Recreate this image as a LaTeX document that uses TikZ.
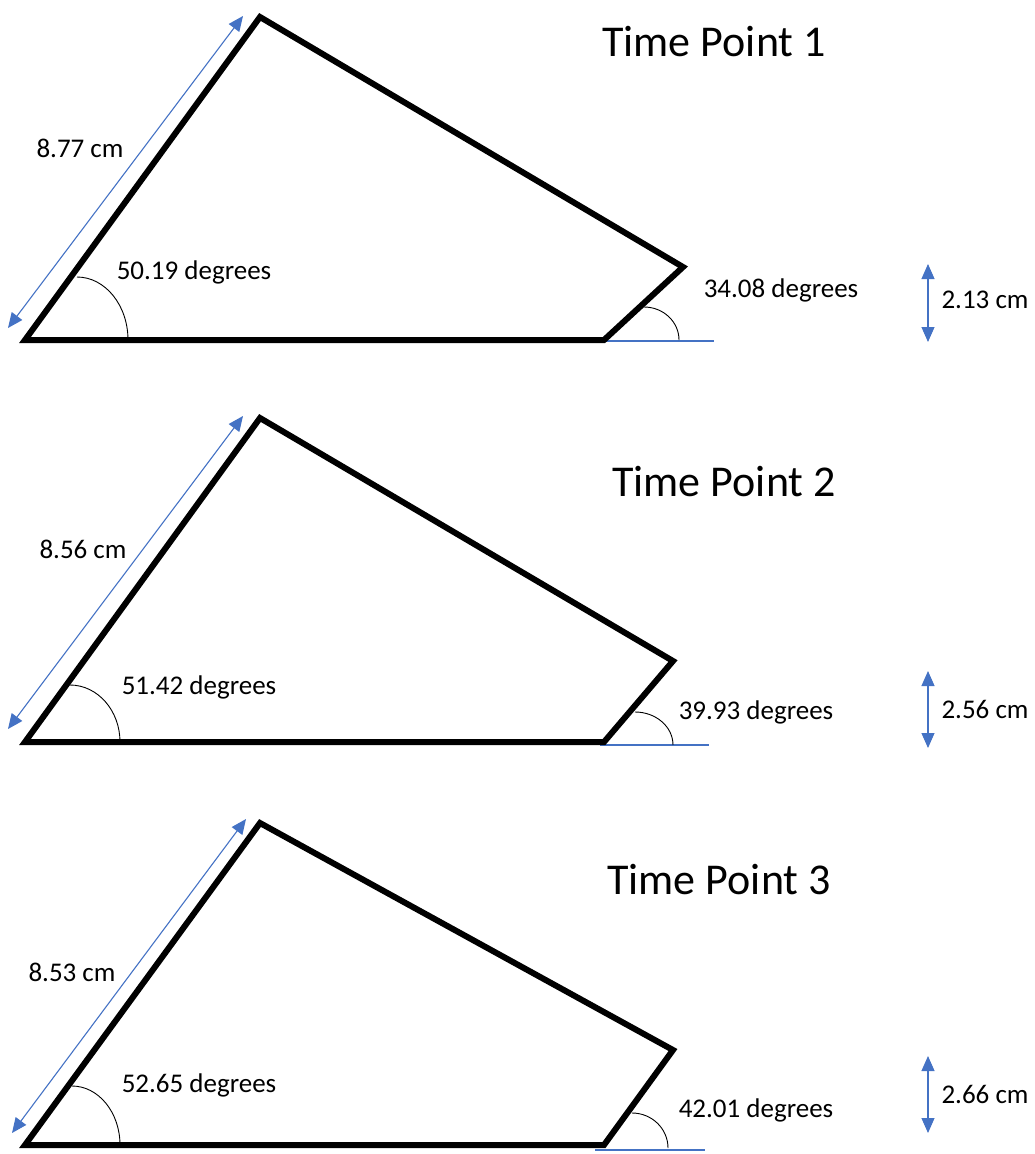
\documentclass[tikz,border=0pt]{standalone}
\usepackage{fontspec}
\setmainfont{Carlito}
\usetikzlibrary{arrows.meta}
\definecolor{dimblue}{HTML}{4472C4}
\tikzset{
  quad/.style={line width=6pt, line join=miter},
  dimarrow/.style={dimblue, line width=1.1pt, {Triangle[length=15pt,width=13pt]}-{Triangle[length=15pt,width=13pt]}},
  baseline/.style={dimblue, line width=1.2pt},
  anglearc/.style={black, line width=0.9pt},
  lbl/.style={font=\fontsize{27}{32}\selectfont, inner sep=0pt},
  ttl/.style={font=\fontsize{44}{52}\selectfont, inner sep=0pt},
}
\begin{document}
\begin{tikzpicture}[x=1pt,y=-1pt]
\useasboundingbox (0,0) rectangle (1035,1154);

% ---------- Time Point 1 ----------
\coordinate (A1) at (25,340);
\coordinate (B1) at (260,17);
\coordinate (C1) at (683,267);
\coordinate (D1) at (604,340);
\coordinate (E1) at (714,341);
\coordinate (P1) at (8,328);
\coordinate (Q1) at (243,16);
\coordinate (U1) at (928,264);
\coordinate (V1) at (928,342);
\draw[baseline] (D1) ++(0,1) -- (E1);
\draw[quad] (A1) -- (B1) -- (C1) -- (D1) -- cycle;
\draw[dimarrow] (P1) -- (Q1);
\draw[anglearc] (77,277) arc[start angle=90, end angle=0, x radius=51pt, y radius=63pt];
\draw[anglearc] (644,307) arc[start angle=90, end angle=0, x radius=35pt, y radius=33pt];
\draw[dimarrow] (U1) -- (V1);
\node[ttl] (t1) at (714,42) {Time Point 1};
\node[lbl] (l1) at (80,148) {8.77 cm};
\node[lbl] (a1) at (194,272) {50.19 degrees};
\node[lbl] (b1) at (781,290) {34.08 degrees};
\node[lbl] (h1) at (985,300) {2.13 cm};

% ---------- Time Point 2 ----------
\coordinate (A2) at (25,742);
\coordinate (B2) at (260,418);
\coordinate (C2) at (673,661);
\coordinate (D2) at (604,742);
\coordinate (E2) at (709,745);
\coordinate (P2) at (8,729);
\coordinate (Q2) at (243,416);
\coordinate (U2) at (928,671);
\coordinate (V2) at (928,748);
\draw[baseline] (600,745) -- (E2);
\draw[quad] (A2) -- (B2) -- (C2) -- (D2) -- cycle;
\draw[dimarrow] (P2) -- (Q2);
\draw[anglearc] (70,685) arc[start angle=90, end angle=0, x radius=50pt, y radius=57pt];
\draw[anglearc] (635,712) arc[start angle=90, end angle=0, x radius=38pt, y radius=33pt];
\draw[dimarrow] (U2) -- (V2);
\node[ttl] (t2) at (724,482) {Time Point 2};
\node[lbl] (l2) at (83,549) {8.56 cm};
\node[lbl] (a2) at (199,687) {51.42 degrees};
\node[lbl] (b2) at (756,712) {39.93 degrees};
\node[lbl] (h2) at (985,709) {2.56 cm};

% ---------- Time Point 3 ----------
\coordinate (A3) at (25,1145);
\coordinate (B3) at (260,823);
\coordinate (C3) at (673,1050);
\coordinate (D3) at (604,1145);
\coordinate (E3) at (705,1150);
\coordinate (P3) at (12,1133);
\coordinate (Q3) at (246,819);
\coordinate (U3) at (928,1056);
\coordinate (V3) at (928,1133);
\draw[baseline] (595,1150) -- (E3);
\draw[quad] (A3) -- (B3) -- (C3) -- (D3) -- cycle;
\draw[dimarrow] (P3) -- (Q3);
\draw[anglearc] (72,1086) arc[start angle=90, end angle=0, x radius=48pt, y radius=59pt];
\draw[anglearc] (632,1113) arc[start angle=90, end angle=0, x radius=36pt, y radius=35pt];
\draw[dimarrow] (U3) -- (V3);
\node[ttl] (t3) at (719,880) {Time Point 3};
\node[lbl] (l3) at (72,972) {8.53 cm};
\node[lbl] (a3) at (199,1085) {52.65 degrees};
\node[lbl] (b3) at (756,1110) {42.01 degrees};
\node[lbl] (h3) at (985,1094) {2.66 cm};
\end{tikzpicture}
\end{document}
